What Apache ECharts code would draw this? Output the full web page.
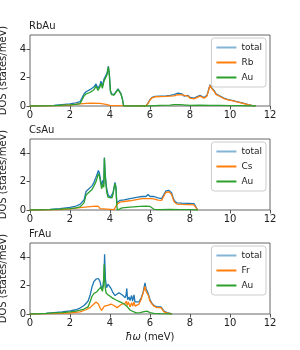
<!DOCTYPE html>
<html><head><meta charset="utf-8">
<script src="https://cdn.jsdelivr.net/npm/echarts@6/dist/echarts.min.js"></script>
<style>html,body{margin:0;padding:0;background:#fff}#c{width:300px;height:350px}</style>
</head><body><div id="c"></div>
<script>
const panelTitles = ['RbAu', 'CsAu', 'FrAu'];
const elementNames = ['Rb', 'Cs', 'Fr'];
const xTicks = [0, 2, 4, 6, 8, 10, 12];
const yTicks = [0, 2, 4];

const rbauTotal = [[0,0],[0.8,0.02],[1.2,0.05],[1.6,0.1],[2,0.15],[2.3,0.22],[2.5,0.3],[2.6,0.4],[2.7,0.85],[2.8,1.0],[3.0,1.15],[3.2,1.35],[3.3,1.55],[3.4,1.25],[3.5,1.5],[3.55,1.75],[3.62,1.4],[3.7,1.9],[3.75,2.0],[3.8,1.85],[3.85,2.3],[3.92,2.8],[3.97,2.2],[4.02,1.1],[4.08,0.85],[4.2,0.8],[4.3,0.9],[4.4,1.2],[4.45,1.33],[4.5,1.2],[4.55,0.85],[4.62,0.5],[4.68,0.02],[5.8,0.01],[5.9,0.2],[6.0,0.45],[6.1,0.6],[6.25,0.68],[6.5,0.7],[6.8,0.72],[7.0,0.75],[7.2,0.8],[7.3,0.75],[7.4,0.9],[7.5,0.78],[7.6,0.85],[7.7,0.7],[7.9,0.75],[8.0,0.6],[8.1,0.7],[8.2,0.55],[8.3,0.6],[8.5,0.75],[8.7,0.6],[8.85,0.75],[9.0,1.5],[9.1,1.25],[9.2,1.1],[9.3,0.85],[9.5,0.7],[9.7,0.55],[9.9,0.45],[10.1,0.4],[10.3,0.32],[10.5,0.25],[10.7,0.18],[10.9,0.1],[11.1,0.04],[11.25,0]];
const rbauRb = [[0,0],[1.5,0.02],[2,0.07],[2.5,0.15],[3.0,0.2],[3.5,0.18],[3.8,0.12],[4.0,0.05],[4.3,0.03],[4.6,0.02],[4.7,0],[5.8,0],[5.9,0.18],[6.0,0.42],[6.1,0.58],[6.25,0.65],[6.5,0.66],[6.8,0.68],[7.0,0.7],[7.2,0.72],[7.3,0.68],[7.4,0.8],[7.5,0.7],[7.6,0.78],[7.7,0.65],[7.9,0.7],[8.0,0.55],[8.1,0.65],[8.2,0.5],[8.3,0.55],[8.5,0.7],[8.7,0.55],[8.85,0.7],[9.0,1.45],[9.1,1.2],[9.2,1.05],[9.3,0.82],[9.5,0.67],[9.7,0.52],[9.9,0.43],[10.1,0.38],[10.3,0.3],[10.5,0.23],[10.7,0.16],[10.9,0.09],[11.1,0.03],[11.25,0]];
const rbauAu = [[0,0],[0.8,0.01],[1.2,0.03],[1.6,0.06],[2,0.08],[2.3,0.12],[2.5,0.17],[2.6,0.27],[2.7,0.7],[2.8,0.85],[3.0,0.95],[3.2,1.15],[3.3,1.4],[3.4,1.1],[3.5,1.35],[3.55,1.6],[3.62,1.25],[3.7,1.75],[3.75,1.85],[3.8,1.75],[3.85,2.2],[3.92,2.75],[3.97,2.1],[4.02,1.05],[4.08,0.8],[4.2,0.77],[4.3,0.87],[4.4,1.17],[4.45,1.3],[4.5,1.18],[4.55,0.83],[4.62,0.48],[4.68,0],[6.0,0],[6.1,0.03],[6.5,0.04],[7.0,0.06],[7.2,0.1],[7.5,0.09],[7.6,0.05],[8.0,0.05],[8.5,0.06],[9.0,0.05],[9.5,0.04],[10,0.03],[10.5,0.02],[11.3,0]];

const csauTotal = [[0,0],[0.5,0.01],[1.0,0.04],[1.5,0.09],[2.0,0.18],[2.3,0.28],[2.5,0.4],[2.7,0.7],[2.8,1.3],[2.9,1.4],[3.1,1.7],[3.2,1.95],[3.3,2.3],[3.42,2.78],[3.47,2.6],[3.52,2.15],[3.58,1.75],[3.65,2.1],[3.69,1.8],[3.72,3.7],[3.76,2.5],[3.83,1.55],[3.9,1.1],[4.0,0.85],[4.1,0.93],[4.15,1.2],[4.2,1.6],[4.25,1.95],[4.3,1.6],[4.34,0.5],[4.4,0.6],[4.5,0.68],[4.7,0.72],[5.0,0.8],[5.2,0.85],[5.4,0.9],[5.6,0.95],[5.7,1.05],[5.8,0.95],[5.9,1.1],[6.0,0.95],[6.1,1.05],[6.2,0.95],[6.4,0.85],[6.58,0.8],[6.7,1.1],[6.8,1.35],[6.87,1.43],[6.95,1.38],[7.08,1.2],[7.15,0.9],[7.22,0.65],[7.35,0.5],[7.6,0.48],[7.9,0.47],[8.2,0.45],[8.3,0.4],[8.38,0]];
const csauCs = [[0,0],[1.0,0.01],[1.5,0.03],[2.0,0.08],[2.5,0.17],[3.0,0.24],[3.3,0.27],[3.42,0.25],[3.5,0.1],[3.6,0.03],[4.2,0.03],[4.3,0.15],[4.38,0.45],[4.5,0.55],[4.7,0.6],[5.0,0.65],[5.2,0.7],[5.4,0.75],[5.6,0.8],[5.7,0.88],[5.8,0.8],[5.9,0.9],[6.0,0.8],[6.1,0.85],[6.2,0.78],[6.4,0.7],[6.58,0.68],[6.7,1.0],[6.8,1.25],[6.87,1.32],[6.95,1.28],[7.08,1.1],[7.15,0.8],[7.22,0.55],[7.35,0.42],[7.6,0.4],[7.9,0.38],[8.2,0.36],[8.3,0.3],[8.38,0]];
const csauAu = [[0,0],[0.5,0.01],[1.0,0.03],[1.5,0.06],[2.0,0.1],[2.3,0.15],[2.5,0.22],[2.7,0.5],[2.8,1.05],[2.9,1.15],[3.1,1.45],[3.2,1.7],[3.3,2.0],[3.42,2.55],[3.47,2.4],[3.52,2.0],[3.58,1.5],[3.65,1.85],[3.69,1.6],[3.72,3.65],[3.76,2.4],[3.83,1.3],[3.9,0.9],[4.0,0.78],[4.1,0.85],[4.15,1.1],[4.2,1.5],[4.25,1.85],[4.3,1.5],[4.34,0.3],[4.37,0],[4.45,0.1],[4.6,0.15],[5.0,0.2],[5.5,0.25],[5.8,0.27],[6.0,0.25],[6.1,0.15],[6.2,0.05],[6.5,0.03],[7.0,0.04],[7.5,0.02],[8.0,0.02],[8.4,0]];

const frauTotal = [[0,0],[0.3,0.01],[0.8,0.05],[1.2,0.1],[1.6,0.15],[2.0,0.22],[2.3,0.3],[2.5,0.42],[2.7,0.6],[2.9,0.9],[3.0,1.3],[3.1,1.9],[3.2,2.3],[3.3,2.45],[3.42,2.5],[3.5,2.3],[3.58,1.75],[3.65,2.0],[3.7,2.6],[3.73,4.2],[3.77,2.5],[3.83,1.85],[3.9,2.1],[3.98,1.95],[4.05,1.8],[4.15,1.5],[4.25,1.3],[4.35,1.35],[4.45,1.5],[4.55,1.4],[4.65,1.3],[4.75,1.15],[4.8,1.3],[4.84,1.8],[4.88,1.0],[4.95,1.2],[5.0,0.95],[5.08,1.3],[5.13,0.9],[5.2,1.35],[5.25,0.85],[5.35,0.8],[5.45,0.85],[5.55,1.1],[5.65,1.5],[5.75,2.2],[5.8,1.8],[5.85,1.9],[5.92,1.4],[6.0,1.0],[6.1,0.75],[6.2,0.6],[6.35,0.5],[6.45,0.45],[6.55,0.5],[6.6,0.4],[6.7,0.2],[6.85,0.1],[7.0,0.04],[7.1,0]];
const frauFr = [[0,0],[0.5,0.01],[1.0,0.02],[1.5,0.04],[2.0,0.07],[2.5,0.15],[2.8,0.3],[3.0,0.45],[3.15,0.65],[3.3,0.85],[3.42,0.7],[3.5,0.45],[3.58,0.25],[3.65,0.35],[3.72,0.55],[3.8,0.45],[3.92,0.62],[4.05,0.7],[4.2,0.6],[4.35,0.45],[4.45,0.5],[4.6,0.7],[4.75,0.75],[4.82,0.9],[4.86,0.6],[4.92,0.85],[5.0,0.5],[5.08,0.8],[5.13,0.55],[5.2,0.85],[5.25,0.55],[5.35,0.6],[5.45,0.7],[5.55,1.0],[5.65,1.45],[5.75,1.95],[5.8,1.6],[5.85,1.7],[5.92,1.3],[6.0,0.9],[6.1,0.7],[6.2,0.55],[6.35,0.45],[6.45,0.4],[6.55,0.45],[6.6,0.35],[6.7,0.15],[6.85,0.08],[7.0,0.02],[7.1,0]];
const frauAu = [[0,0],[0.3,0.01],[0.8,0.04],[1.2,0.08],[1.6,0.1],[2.0,0.15],[2.3,0.2],[2.5,0.27],[2.7,0.35],[2.9,0.5],[3.0,0.85],[3.1,1.25],[3.2,1.45],[3.33,1.55],[3.45,1.75],[3.55,1.9],[3.62,1.6],[3.67,2.0],[3.71,3.5],[3.75,2.0],[3.8,1.5],[3.9,1.35],[4.0,1.3],[4.15,1.1],[4.33,0.97],[4.5,0.85],[4.67,0.74],[4.8,0.6],[4.9,0.45],[5.0,0.28],[5.1,0.15],[5.3,0.08],[5.5,0.1],[5.65,0.15],[5.75,0.25],[5.85,0.2],[6.0,0.1],[6.2,0.05],[6.5,0.03],[7.0,0.01],[7.1,0]];

const panelData = [
  [rbauTotal, rbauRb, rbauAu],
  [csauTotal, csauCs, csauAu],
  [frauTotal, frauFr, frauAu]
];

const FONT = 'DejaVu Sans';
const colors = ['#1f77b4', '#ff7f0e', '#2ca02c'];
const gridTops = [35, 139, 243];
const gridH = 71;

const grids = [], xAxes = [], yAxes = [], series = [], titles = [], legends = [];
gridTops.forEach((top, i) => {
  grids.push({left: 30, width: 240, top: top, height: gridH, show: true, borderColor: '#666', borderWidth: 1,
    backgroundColor: 'transparent', containLabel: false, outerBoundsMode: 'none'});
  xAxes.push({
    type: 'value', gridIndex: i, min: 0, max: 12, interval: 2,
    axisLine: {show: false}, splitLine: {show: false},
    axisTick: {show: true, length: 3.5, lineStyle: {color: '#555'}},
    axisLabel: {fontFamily: FONT, fontSize: 10, color: '#222', margin: 4},
    name: i === 2 ? '{i|ħω} (meV)' : '', nameLocation: 'middle', nameGap: 18,
    nameTextStyle: {fontFamily: FONT, fontSize: 10, color: '#222', rich: {i: {fontStyle: 'italic', fontFamily: FONT, fontSize: 10, color: '#222'}}}
  });
  yAxes.push({
    type: 'value', gridIndex: i, min: 0, max: 5, interval: 1,
    axisLine: {show: false}, splitLine: {show: false},
    axisTick: {show: true, length: 3.5, lineStyle: {color: '#555'}, customValues: yTicks},
    axisLabel: {fontFamily: FONT, fontSize: 10, color: '#222', margin: 4, customValues: yTicks},
    name: 'DOS (states/meV)', nameLocation: 'middle', nameGap: 22, nameRotate: 90,
    nameTextStyle: {fontFamily: FONT, fontSize: 10, color: '#222'}
  });
  titles.push({text: panelTitles[i], left: 29, top: top - 14, padding: 0,
    textStyle: {fontFamily: FONT, fontSize: 10, fontWeight: 'normal', color: '#222'}});
  const names = ['total', elementNames[i], 'Au'];
  names.forEach((nm, k) => {
    series.push({
      type: 'line', name: nm, xAxisIndex: i, yAxisIndex: i,
      data: panelData[i][k], symbol: 'none', showSymbol: false,
      lineStyle: {color: colors[k], width: 1.3}, itemStyle: {color: colors[k]},
      z: 2 + k, animation: false
    });
  });
  legends.push({
    orient: 'vertical', right: 34, top: top + 3,
    backgroundColor: 'rgba(255,255,255,0.85)', borderColor: '#ccc', borderWidth: 1, borderRadius: 3,
    padding: [5, 4, 5, 5], itemGap: 6, itemWidth: 20, itemHeight: 2, icon: 'rect',
    textStyle: {fontFamily: FONT, fontSize: 9, color: '#222', padding: [0, 0, 0, 0]},
    data: [
      {name: 'total', itemStyle: {opacity: 0.55}},
      {name: names[1]},
      {name: 'Au'}
    ]
  });
});

const chart = echarts.init(document.getElementById('c'), null, {renderer: 'canvas'});
chart.setOption({
  animation: false,
  title: titles, legend: legends, grid: grids, xAxis: xAxes, yAxis: yAxes, series: series
});
</script></body></html>
